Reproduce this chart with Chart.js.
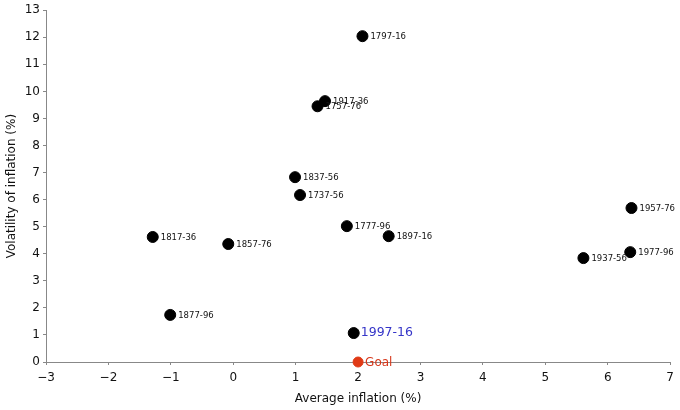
<!DOCTYPE html>
<html>
<head>
<meta charset="utf-8">
<script src="https://cdn.jsdelivr.net/npm/chart.js@4/dist/chart.umd.min.js"></script>
<style>
  html, body { margin: 0; padding: 0; background: #fff; }
  #wrap { width: 680px; height: 410px; }
</style>
</head>
<body>
<div id="wrap"><canvas id="chart" width="680" height="410"></canvas></div>
<script>
// 20-year periods: average inflation vs volatility
const periods = ['1797-16', '1917-36', '1757-76', '1837-56', '1737-56', '1777-96', '1897-16',
                 '1817-36', '1857-76', '1877-96', '1957-76', '1977-96', '1937-56', '1997-16'];
const avgInflation = [2.07, 1.47, 1.35, 0.99, 1.07, 1.82, 2.49, -1.29, -0.08, -1.01, 6.38, 6.36, 5.61, 1.93];
const volatility   = [12.04, 9.64, 9.45, 6.83, 6.17, 5.02, 4.65, 4.62, 4.36, 1.74, 5.69, 4.06, 3.84, 1.07];

const goalLabel = 'Goal';
const goalX = [2];
const goalY = [0];

const xTicks = [-3, -2, -1, 0, 1, 2, 3, 4, 5, 6, 7];
const yTicks = [0, 1, 2, 3, 4, 5, 6, 7, 8, 9, 10, 11, 12, 13];

const FONT = '"DejaVu Sans", sans-serif';
const highlight = '1997-16';

// draws the text next to each point
const pointLabels = {
    id: 'pointLabels',
    afterDatasetsDraw(chart) {
        const ctx = chart.ctx;
        ctx.save();
        ctx.textBaseline = 'middle';
        chart.data.datasets.forEach((ds, di) => {
            const meta = chart.getDatasetMeta(di);
            meta.data.forEach((pt, i) => {
                const txt = ds.pointNames[i];
                if (txt === goalLabel) {
                    ctx.fillStyle = '#d6361a';
                    ctx.font = '12px ' + FONT;
                    ctx.fillText(txt, pt.x + 7, pt.y + 1);
                } else if (txt === highlight) {
                    ctx.fillStyle = '#3535c8';
                    ctx.font = '12.5px ' + FONT;
                    ctx.fillText(txt, pt.x + 7, pt.y);
                } else {
                    ctx.fillStyle = '#111';
                    ctx.font = '8.5px ' + FONT;
                    ctx.fillText(txt, pt.x + 8, pt.y + 1);
                }
            });
        });
        ctx.restore();
    }
};

document.addEventListener('DOMContentLoaded', () => {
    const ctx = document.getElementById('chart').getContext('2d');
    new Chart(ctx, {
        type: 'scatter',
        data: {
            datasets: [{
                data: periods.map((p, i) => ({ x: avgInflation[i], y: volatility[i] })),
                pointNames: periods,
                backgroundColor: '#000',
                borderColor: '#000',
                pointRadius: 5.5,
                clip: false
            }, {
                data: goalX.map((x, i) => ({ x: x, y: goalY[i] })),
                pointNames: [goalLabel],
                backgroundColor: '#e03a16',
                borderColor: '#e03a16',
                pointRadius: 5,
                clip: false
            }]
        },
        options: {
            responsive: false,
            animation: false,
            layout: { padding: { top: 10, right: 8, left: 1, bottom: 0 } },
            plugins: { legend: { display: false }, tooltip: { enabled: false } },
            scales: {
                x: {
                    type: 'linear',
                    min: -3, max: 7,
                    afterBuildTicks: s => { s.ticks = xTicks.map(v => ({ value: v })); },
                    afterFit: s => { s.height = 48; },
                    border: { color: '#888', width: 1 },
                    grid: { drawOnChartArea: false, tickLength: 3, color: '#888' },
                    ticks: { color: '#111', font: { family: FONT, size: 12 }, padding: 6,
                             callback: v => String(v).replace('-', '\u2212') },
                    title: { display: true, text: 'Average inflation (%)', color: '#111',
                             font: { family: FONT, size: 12 }, padding: { top: 4 } }
                },
                y: {
                    type: 'linear',
                    min: 0, max: 13,
                    afterBuildTicks: s => { s.ticks = yTicks.map(v => ({ value: v })); },
                    afterFit: s => { s.width = 45; },
                    border: { color: '#888', width: 1 },
                    grid: { drawOnChartArea: false, tickLength: 3, color: '#888' },
                    ticks: { color: '#111', font: { family: FONT, size: 12 }, padding: 3 },
                    title: { display: true, text: 'Volatility of inflation (%)', color: '#111',
                             font: { family: FONT, size: 12 }, padding: { bottom: 2 } }
                }
            }
        },
        plugins: [pointLabels]
    });
});
</script>
</body>
</html>
